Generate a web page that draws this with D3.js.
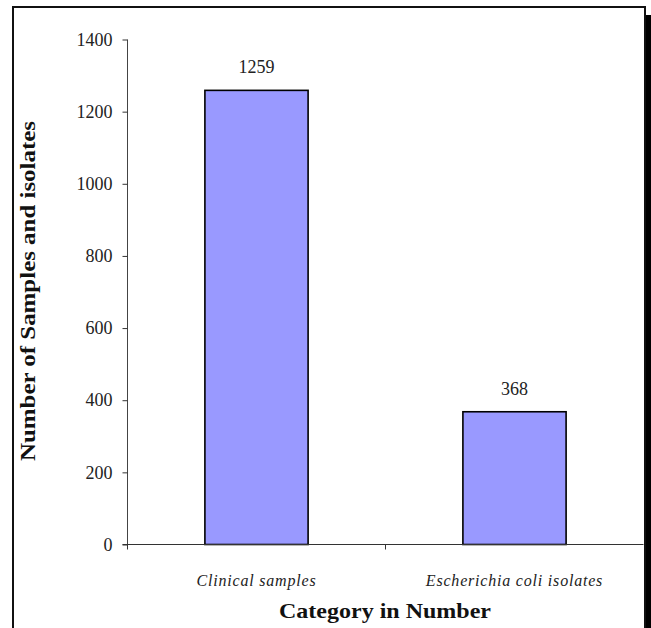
<!DOCTYPE html>
<html>
<head>
<meta charset="utf-8">
<script src="https://cdn.jsdelivr.net/npm/d3@7"></script>
<style>
  html, body { margin: 0; padding: 0; background: #fff; }
  svg { display: block; }
</style>
</head>
<body>
<svg id="chart" width="651" height="628"></svg>
<script>
const categories = ["Clinical samples", "Escherichia coli isolates"];
const values = [1259, 368];
const yTicks = [0, 200, 400, 600, 800, 1000, 1200, 1400];
const yTitle = "Number of Samples and isolates";
const xTitle = "Category in Number";

const svg = d3.select("#chart");
const W = 651, H = 628;
const serif = "'Liberation Serif', 'Times New Roman', serif";

// frame with shadow
svg.append("rect").attr("x", 646).attr("y", 15).attr("width", 6).attr("height", H).attr("fill", "#000");
svg.append("rect").attr("x", 13).attr("y", 7).attr("width", 632).attr("height", H + 20)
  .attr("fill", "#fff").attr("stroke", "#111").attr("stroke-width", 2);

const m = { left: 127.5, right: 643.5, top: 39.5, bottom: 544.5 };

const x = d3.scaleBand().domain(categories).range([m.left, m.right])
  .paddingInner(0.6).paddingOuter(0.3);
const y = d3.scaleLinear().domain([0, 1400]).range([m.bottom, m.top]);

// bars
svg.selectAll("rect.bar").data(values).enter().append("rect")
  .attr("class", "bar")
  .attr("x", (d, i) => x(categories[i]))
  .attr("y", d => y(d))
  .attr("width", x.bandwidth())
  .attr("height", d => y(0) - y(d))
  .attr("fill", "#9999FF")
  .attr("stroke", "#000")
  .attr("stroke-width", 1.6);

// y axis
const yAxis = d3.axisLeft(y).tickValues(yTicks).tickSize(5).tickPadding(10).tickFormat(d3.format("d"));
const gy = svg.append("g").attr("transform", `translate(${m.left},0)`).call(yAxis);
gy.select(".domain").attr("stroke", "#444").attr("d", `M0,${m.top}V${m.bottom}`);
gy.selectAll(".tick line").attr("stroke", "#333");
gy.selectAll(".tick text").attr("font-family", serif).attr("font-size", 18).attr("fill", "#222");

// x axis
const gx = svg.append("g").attr("transform", `translate(0,${m.bottom})`);
gx.append("line").attr("x1", m.left - 5).attr("x2", m.right).attr("y1", 0).attr("y2", 0).attr("stroke", "#333");
const boundaries = [m.left, m.left + x.step()];
gx.selectAll("line.tk").data(boundaries).enter().append("line")
  .attr("class", "tk").attr("x1", d => d).attr("x2", d => d).attr("y1", 0).attr("y2", 5).attr("stroke", "#333");
gx.selectAll("text.cat").data(categories).enter().append("text")
  .attr("class", "cat")
  .attr("x", d => x(d) + x.bandwidth() / 2)
  .attr("y", 41)
  .attr("text-anchor", "middle")
  .attr("font-family", serif).attr("font-style", "italic").attr("font-size", 16)
  .attr("letter-spacing", 0.8)
  .attr("fill", "#222")
  .text(d => d);

// value labels
svg.selectAll("text.val").data(values).enter().append("text")
  .attr("class", "val")
  .attr("x", (d, i) => x(categories[i]) + x.bandwidth() / 2)
  .attr("y", d => y(d) - 17)
  .attr("text-anchor", "middle")
  .attr("font-family", serif).attr("font-size", 18).attr("fill", "#222")
  .text(d => d);

// titles
svg.append("text")
  .attr("transform", `translate(35,291) rotate(-90)`)
  .attr("text-anchor", "middle")
  .attr("font-family", serif).attr("font-weight", "bold").attr("font-size", 20)
  .attr("textLength", 340).attr("lengthAdjust", "spacingAndGlyphs")
  .attr("fill", "#111")
  .text(yTitle);

svg.append("text")
  .attr("x", 385).attr("y", 618)
  .attr("text-anchor", "middle")
  .attr("font-family", serif).attr("font-weight", "bold").attr("font-size", 21)
  .attr("textLength", 212).attr("lengthAdjust", "spacingAndGlyphs")
  .attr("fill", "#111")
  .text(xTitle);
</script>
</body>
</html>
